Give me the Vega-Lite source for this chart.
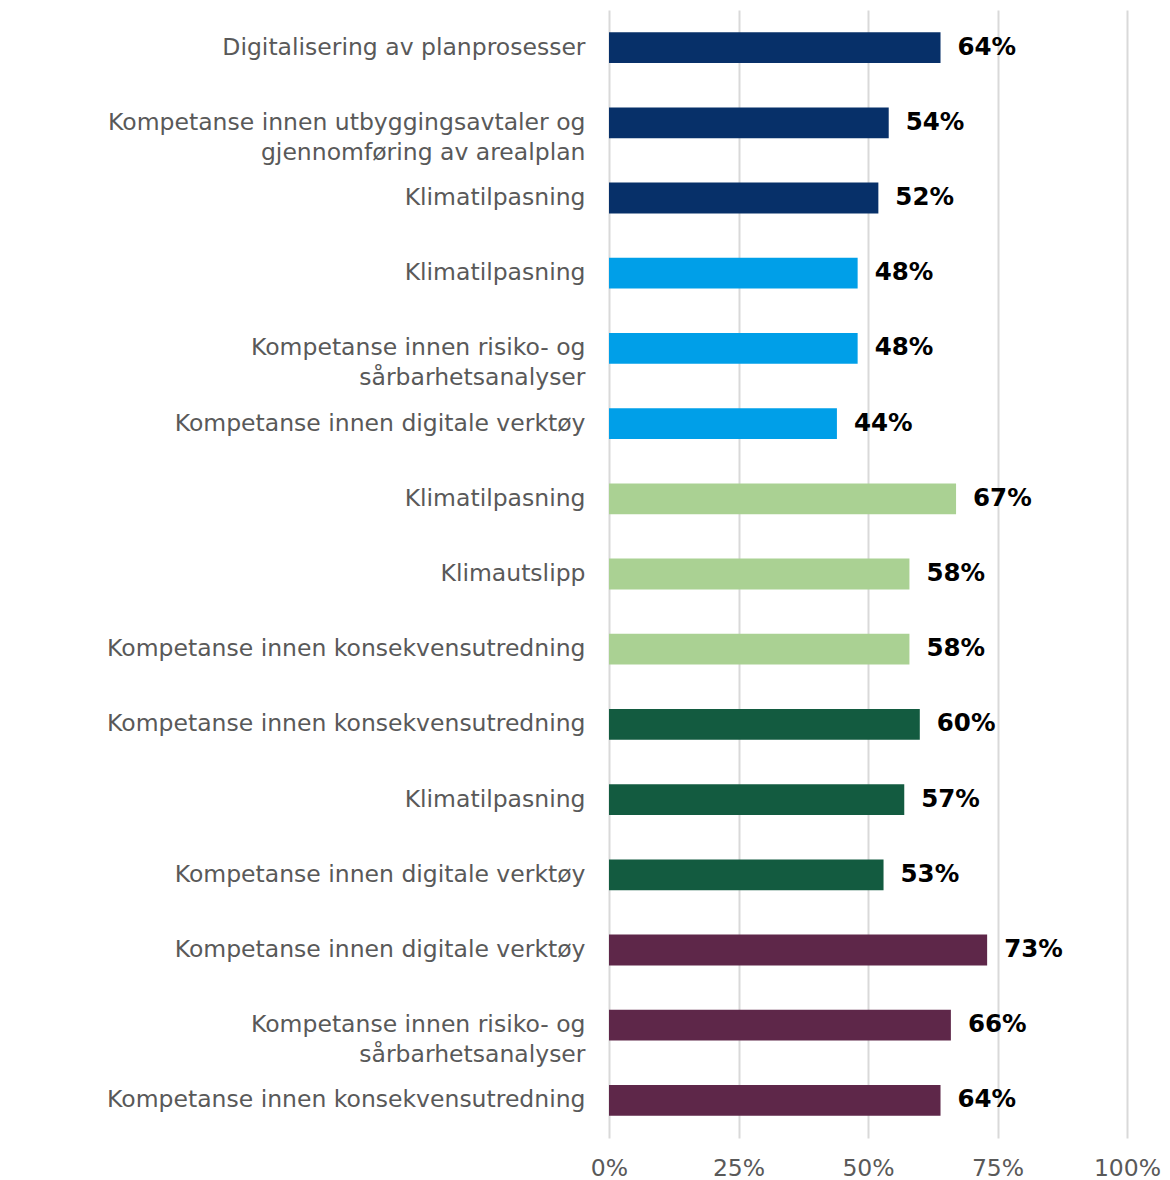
{
  "$schema": "https://vega.github.io/schema/vega-lite/v6.json",
  "width": 518,
  "height": 1128,
  "autosize": {"type": "none"},
  "padding": {"left": 609, "top": 10, "right": 43, "bottom": 42},
  "background": "white",
  "config": {
    "view": {"stroke": null},
    "font": "DejaVu Sans",
    "style": {"guide-label": {"lineBreak": "|"}}
  },
  "data": {
    "values": [
      {"region": "Øst", "key": "Øst (n=50)#1::Digitalisering av planprosesser", "share": 0.64},
      {"region": "Øst", "key": "Øst (n=50)#2::Kompetanse innen utbyggingsavtaler og|gjennomføring av arealplan", "share": 0.54},
      {"region": "Øst", "key": "Øst (n=50)#3::Klimatilpasning", "share": 0.52},
      {"region": "Sør", "key": "Sør (n=27)#1::Klimatilpasning", "share": 0.48},
      {"region": "Sør", "key": "Sør (n=27)#2::Kompetanse innen risiko- og|sårbarhetsanalyser", "share": 0.48},
      {"region": "Sør", "key": "Sør (n=27)#3::Kompetanse innen digitale verktøy", "share": 0.44},
      {"region": "Vest", "key": "Vest (n=33)#1::Klimatilpasning", "share": 0.67},
      {"region": "Vest", "key": "Vest (n=33)#2::Klimautslipp", "share": 0.58},
      {"region": "Vest", "key": "Vest (n=33)#3::Kompetanse innen konsekvensutredning", "share": 0.58},
      {"region": "Midt-Norge", "key": "Midt-Norge (n=30)#1::Kompetanse innen konsekvensutredning", "share": 0.60},
      {"region": "Midt-Norge", "key": "Midt-Norge (n=30)#2::Klimatilpasning", "share": 0.57},
      {"region": "Midt-Norge", "key": "Midt-Norge (n=30)#3::Kompetanse innen digitale verktøy", "share": 0.53},
      {"region": "Nord", "key": "Nord (n=44)#1::Kompetanse innen digitale verktøy", "share": 0.73},
      {"region": "Nord", "key": "Nord (n=44)#2::Kompetanse innen risiko- og|sårbarhetsanalyser", "share": 0.66},
      {"region": "Nord", "key": "Nord (n=44)#3::Kompetanse innen konsekvensutredning", "share": 0.64}
    ]
  },
  "encoding": {
    "x": {
      "field": "share",
      "type": "quantitative",
      "scale": {"domain": [0, 1], "nice": false},
      "axis": {
        "title": null,
        "values": [0, 0.25, 0.5, 0.75, 1],
        "format": ".0%",
        "domain": false,
        "ticks": false,
        "grid": true,
        "gridColor": "#D9D9D9",
        "gridWidth": 2,
        "labelFlush": false,
        "labelFont": "DejaVu Sans",
        "labelFontSize": 23.5,
        "labelColor": "#595959",
        "labelPadding": 18
      }
    },
    "y": {
      "field": "key",
      "type": "nominal",
      "sort": null,
      "scale": {"paddingInner": 0, "paddingOuter": 0},
      "axis": {
        "title": null,
        "orient": "left",
        "domain": false,
        "ticks": false,
        "labelExpr": "slice(datum.value, indexof(datum.value, '::') + 2)",
        "labelFont": "DejaVu Sans",
        "labelFontSize": 23.5,
        "labelColor": "#595959",
        "labelLineHeight": 30,
        "labelAlign": "right",
        "labelBaseline": "middle",
        "labelPadding": 24,
        "labelLimit": 600
      }
    }
  },
  "layer": [
    {
      "mark": {"type": "bar", "height": {"band": 0.41}},
      "encoding": {
        "color": {
          "field": "region",
          "type": "nominal",
          "legend": null,
          "scale": {
            "domain": ["Øst", "Sør", "Vest", "Midt-Norge", "Nord"],
            "range": ["#073069", "#009FE8", "#AAD193", "#135B40", "#5E2749"]
          }
        }
      }
    },
    {
      "mark": {"type": "text", "align": "left", "baseline": "middle", "dx": 17, "font": "DejaVu Sans", "fontWeight": "bold", "fontSize": 24.5, "color": "#000000"},
      "encoding": {
        "text": {"field": "share", "type": "quantitative", "format": ".0%"}
      }
    }
  ]
}
